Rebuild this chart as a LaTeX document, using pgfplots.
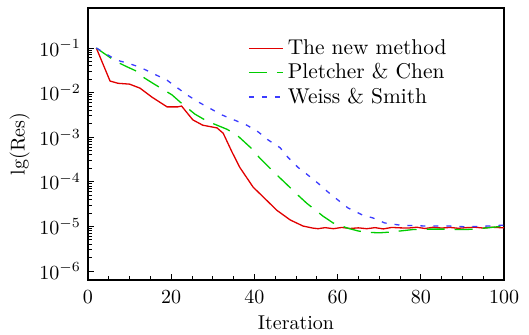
\documentclass[border=0pt]{standalone}
\usepackage{pgfplots}
\pgfplotsset{compat=1.18}
\definecolor{cred}{RGB}{225,0,0}
\definecolor{cgreen}{RGB}{0,205,0}
\definecolor{cblue}{RGB}{60,60,255}
\begin{document}
\begin{tikzpicture}
\begin{axis}[
  scale only axis,
  width=208pt, height=136pt,
  xmin=0, xmax=100,
  ymode=log,
  ymin=6.3e-7, ymax=0.79,
  xtick={0,20,40,60,80,100},
  minor x tick num=3,
  ytick={1e-6,1e-5,1e-4,1e-3,1e-2,1e-1},
  tick pos=left,
  tick align=inside,
  major tick length=3pt,
  minor tick length=2pt,
  axis line style={line width=0.7pt},
  every tick/.style={black, line width=0.5pt},
  xticklabel style={yshift=-2pt},
  xlabel={Iteration},
  ylabel={lg(Res)},
  xlabel style={yshift=1pt},
  ylabel style={yshift=-2pt},
  legend style={at={(0.37,0.915)}, anchor=north west, draw=none, fill=none,
    row sep=-1pt, font=\fontsize{10.7}{13}\selectfont},
  legend cell align=left,
]
\addplot[draw=cred, line width=0.65pt] coordinates {
(2,0.1) (5.3,0.0182) (7.2,0.0162) (10,0.0155) (12.5,0.0126) (15.4,0.0079)
(19,0.0048) (21.6,0.0048) (22.5,0.0050) (25.2,0.00245) (27.6,0.00186)
(31,0.00162) (32.5,0.00123) (34.6,0.00047) (36.5,0.00021) (39.7,7.6e-5)
(42.1,4.6e-5) (45.4,2.3e-5) (48.6,1.4e-5) (51.7,1.02e-5) (54,9.2e-6)
(55.3,8.9e-6) (57,9.4e-6) (59,8.9e-6) (61,9.5e-6) (63,9.0e-6) (65,9.3e-6)
(67,8.9e-6) (69,9.4e-6) (71,8.8e-6) (73,9.5e-6) (75,9.3e-6) (77,9.2e-6)
(79,9.6e-6) (81,9.0e-6) (83,9.6e-6) (85,9.2e-6) (87,9.5e-6) (89,9.1e-6)
(91,9.4e-6) (93,9.6e-6) (95,9.2e-6) (97,9.6e-6) (100,9.3e-6)
};
\addlegendentry{The new method}
\addplot[draw=cgreen, line width=0.65pt, dash pattern=on 9pt off 5pt] coordinates {
(2,0.1) (6.5,0.0513) (8.9,0.0398) (11.7,0.0302) (13.2,0.0224) (15.6,0.0162)
(20.2,0.0089) (22.1,0.0062) (25.7,0.0033) (28.6,0.0023) (33.4,0.00151)
(35.8,0.00112) (39.4,0.00055) (41.3,0.00034) (44.9,0.000158) (46.9,0.000105)
(50.5,5.0e-5) (52.6,3.3e-5) (56.5,1.7e-5) (58.9,1.2e-5) (62.5,9.1e-6)
(65,7.9e-6) (67,7.4e-6) (70,7.2e-6) (72,7.4e-6) (75,7.9e-6) (78,8.5e-6)
(82,8.7e-6) (86,8.7e-6) (90,8.5e-6) (93,8.7e-6) (96,9.3e-6) (100,1.02e-5)
};
\addlegendentry{Pletcher \& Chen}
\addplot[draw=cblue, line width=0.65pt, dash pattern=on 2.5pt off 4pt] coordinates {
(2,0.1) (6.5,0.056) (7.7,0.051) (9.6,0.0457) (12.5,0.0372) (15.4,0.0275)
(19,0.019) (21.6,0.0126) (23.8,0.0089) (26.9,0.0059) (32.2,0.00316)
(38.2,0.00186) (40.9,0.00132) (43.3,0.00087) (46.2,0.00058) (48,0.00036)
(50.5,0.00021) (52.9,0.000141) (55.3,9.3e-5) (57.7,5.9e-5) (60.1,3.9e-5)
(62.5,2.6e-5) (65.9,1.82e-5) (68.5,1.55e-5) (71.3,1.2e-5) (75,1.07e-5)
(81.5,1.02e-5) (87,1.02e-5) (91,9.8e-6) (96,1.02e-5) (100,1.07e-5)
};
\addlegendentry{Weiss \& Smith}
\end{axis}
\pgfresetboundingbox
\path ([shift={(-44pt,-27.5pt)}]current axis.south west) rectangle ([shift={(12.5pt,4pt)}]current axis.north east);
\end{tikzpicture}
\end{document}
